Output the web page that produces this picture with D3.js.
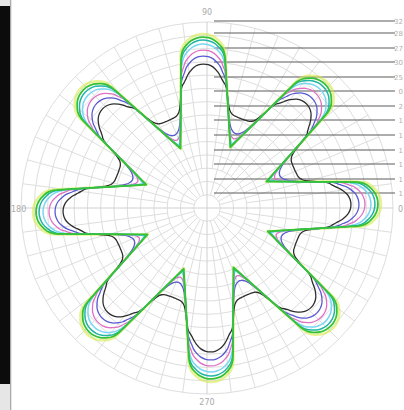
<!DOCTYPE html>
<html><head><meta charset="utf-8">
<script src="https://cdn.jsdelivr.net/npm/d3@7"></script>
<style>html,body{margin:0;padding:0;background:#fff;overflow:hidden}</style>
</head><body>
<svg id="c" width="404" height="410"></svg>
<script>
// Angular offsets (degrees) from each petal's axis, half-petal profile (petals every 45°)
const PHI = [0,2,4,6,7,8,9,10,11,12,13,14,15,16,17,18,19,20,21,22,22.5];
const petalCenters = [1.5,46.5,91.5,136.5,181.5,226.5,271.5,316.5];
// radial levels (same profile on each of the 8 petals)
const rYellow  = [174,173.3,171,166.5,163.5,158,144.5,132.2,122.3,113.6,106,99.4,93.6,88.5,84,79.8,76,72.6,69.4,66.3,64.5];
const rGreen   = [171,170.3,168,163.5,160.5,155,142.6,130.6,120.8,112.2,104.7,98.2,92.5,87.5,83,79,75.3,72,69,66.3,65];
const rTeal    = [168,167.3,165,160.5,157.5,152.5,142,130.3,120.6,112,104.6,98.2,92.6,87.6,83.2,79.3,75.8,72.7,70,67.5,66.5];
const rCyan    = [164,163.3,161,156.5,153.5,148.5,141,130,120.5,112,104.6,98.3,92.8,87.8,83.5,79.7,76.5,73.8,71.3,69.3,68.5];
const rMagenta = [158,157.3,155,150.5,147.5,142.5,138,130,120.8,112.2,104.8,98.5,93,88.3,84.2,80.8,78.2,76.3,75,74.3,74];
const rBlue    = [152,151.3,149,144.5,141.5,137,133,128.5,120.5,112.3,105,99,94,89.8,86.5,84,82.2,81,80.2,79.8,79.6];
const rBlack   = [144,143.3,141,136.5,133.5,130,127,124.5,119.5,113,107,102.5,99.5,97.8,96.8,96.2,96,95.8,95.7,95.6,95.6];
const seriesNames = ["S1","S2","S3","S4","S5","S6","S7"];
const angleLabels = ["0","90","180","270"];
const legendLabels = ["32","28","27","30","25","0","2","1","1","1","1","1","1"];

const series = [
  {name:seriesNames[0], r:rYellow,  color:"#d6ea4c", w:2.6, op:0.6},
  {name:seriesNames[6], r:rBlack,   color:"#2e2e2e", w:1.3, op:1},
  {name:seriesNames[5], r:rBlue,    color:"#5a5ad2", w:1.3, op:1},
  {name:seriesNames[4], r:rMagenta, color:"#e070c4", w:1.3, op:1},
  {name:seriesNames[3], r:rCyan,    color:"#7ad6f2", w:1.5, op:1},
  {name:seriesNames[2], r:rTeal,    color:"#22b4a4", w:1.5, op:1},
  {name:seriesNames[1], r:rGreen,   color:"#36c236", w:1.8, op:1}
];

const svg = d3.select("#c");
const cx = 207, cy = 208, R = 186;
const rScale = d3.scaleLinear().domain([0,186]).range([0,R]);
const ringCount = 14;
const toRad = d => d*Math.PI/180;

const defs = svg.append("defs");
defs.append("filter").attr("id","soft").append("feGaussianBlur").attr("stdDeviation",0.35);

// left window edge
svg.append("rect").attr("x",0).attr("y",0).attr("width",12).attr("height",410).attr("fill","#e6e6e6");
svg.append("rect").attr("x",0).attr("y",6).attr("width",10).attr("height",378).attr("fill","#0c0c0c");
svg.append("line").attr("x1",10.5).attr("x2",10.5).attr("y1",0).attr("y2",410).attr("stroke","#aaa");

const g = svg.append("g").attr("transform",`translate(${cx},${cy})`);
const grid = g.append("g");
// rings
d3.range(1,ringCount+1).forEach(k=>{
  grid.append("circle").attr("r",rScale(k*186/ringCount)).attr("fill","none")
    .attr("stroke","#dedede").attr("stroke-width",1);
});
// spokes
d3.range(0,360,7.5).forEach(a=>{
  let r0;
  if (a%90===0) r0 = 0;
  else if (a%15===0) r0 = rScale(186/ringCount);
  else r0 = rScale(3*186/ringCount);
  const t = toRad(a);
  grid.append("line")
    .attr("x1",r0*Math.cos(t)).attr("y1",-r0*Math.sin(t))
    .attr("x2",R*Math.cos(t)).attr("y2",-R*Math.sin(t))
    .attr("stroke", a%90===0 ? "#d0d0d0":"#dedede").attr("stroke-width",1);
});
// angle labels
const lab = [[0,196,4,"end"],[90,0,-193,"middle"],[180,-196,4,"start"],[270,0,197,"middle"]];
lab.forEach((l,i)=>{
  g.append("text").attr("x",l[1]).attr("y",l[2]).attr("text-anchor",l[3])
   .attr("font-family","DejaVu Sans").attr("font-size",8).attr("fill","#aaa").text(angleLabels[i]);
});

// legend lines
const legY = [21,33,48,62,77,91,106,120,135,150,164,179,193];
const leg = svg.append("g");
legendLabels.forEach((t,i)=>{
  leg.append("line").attr("x1",214).attr("x2",395).attr("y1",legY[i]).attr("y2",legY[i])
    .attr("stroke","#5c5c5c").attr("stroke-width",1.2);
  leg.append("text").attr("x",403).attr("y",legY[i]+3).attr("text-anchor","end")
    .attr("font-family","DejaVu Sans").attr("font-size",7).attr("fill","#b0b0b0").text(t);
});

// curves
function buildPoints(rs){
  const pts = [];
  petalCenters.forEach(c=>{
    for (let i=PHI.length-1;i>=0;i--) pts.push([c-PHI[i], rs[i]]);
    for (let i=1;i<PHI.length-1;i++) pts.push([c+PHI[i], rs[i]]);
  });
  return pts;
}
const line = d3.lineRadial()
  .angle(d=>Math.PI/2 - toRad(d[0]))
  .radius(d=>rScale(d[1]))
  .curve(d3.curveCatmullRomClosed.alpha(0.5));
const cg = svg.append("g").attr("transform",`translate(${cx},${cy})`).attr("filter","url(#soft)");
series.forEach(s=>{
  cg.append("path").attr("d",line(buildPoints(s.r))).attr("fill","none")
    .attr("stroke",s.color).attr("stroke-width",s.w).attr("stroke-opacity",s.op)
    .attr("stroke-linejoin","round");
});
</script>
</body></html>
